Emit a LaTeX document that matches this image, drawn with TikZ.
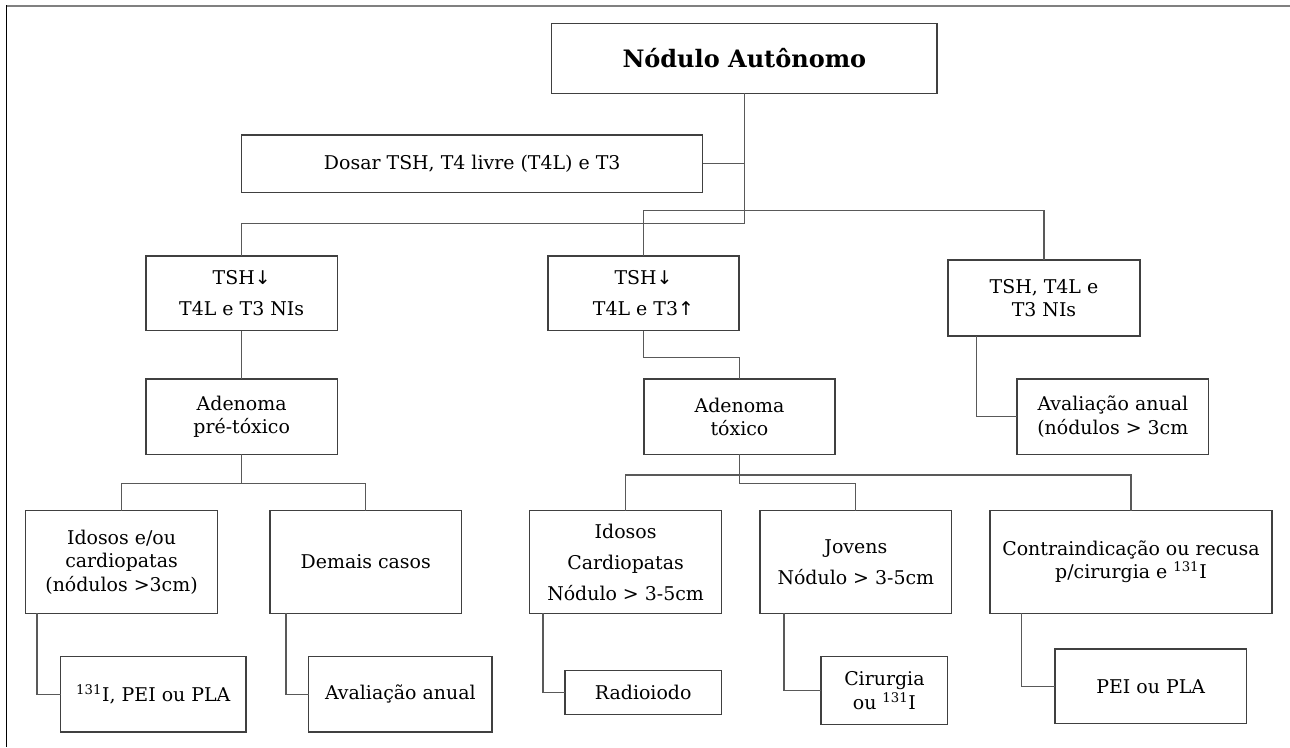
\documentclass[tikz,border=0pt]{standalone}
\usepackage{fontspec}
\setmainfont{DejaVu Serif}
\newfontfamily\arrowfont{DejaVu Sans}
\usetikzlibrary{calc}
\newcommand{\arrdown}{{\arrowfont ↓}}
\newcommand{\arrup}{{\arrowfont ↑}}
\newcommand{\isot}{\textsuperscript{131}}
% a box given by its two corners (pixel grid, y downwards)
\newcommand{\flowbox}[6]{%
  \pgfmathsetmacro\bw{(#4-#2)*0.75}%
  \pgfmathsetmacro\bh{(#5-#3)*0.75}%
  \node[box, minimum width=\bw pt, minimum height=\bh pt]
    (#1) at ({(#2+#4)/2},{(#3+#5)/2}) {#6};}
\begin{document}
\begin{tikzpicture}[x=0.75pt,y=-0.75pt,
  box/.style={draw=black!75, line width=0.9pt, inner sep=0pt, outer sep=0pt,
              align=center, font=\fontsize{14.2}{17.5}\selectfont},
  link/.style={draw=black!65, line width=0.8pt}]
\useasboundingbox (0,0) rectangle (1290,747);

% frame
\draw[black!50, line width=1.5pt] (6,5.7) -- (1290,5.7);
\draw[black, line width=1.1pt] (6.5,5) -- (6.5,747);

% boxes
\flowbox{title}{551.7}{23.7}{937}{93.3}{\bfseries\fontsize{18}{22}\selectfont Nódulo Autônomo}
\flowbox{dosar}{241.8}{135}{702.7}{192.3}{Dosar TSH, T4 livre (T4L) e T3}
\flowbox{tshA}{146}{256}{337.3}{330.7}{TSH\arrdown\\[5.8pt]T4L e T3 NIs}
\flowbox{tshB}{548}{256}{739}{330.7}{TSH\arrdown\\[5.8pt]T4L e T3\arrup}
\flowbox{tshC}{948}{260}{1140}{336}{TSH, T4L e\\T3 NIs}
\flowbox{adpre}{146}{379}{337.3}{454.3}{Adenoma\\pré-tóxico}
\flowbox{adtox}{644}{379}{835}{454.3}{Adenoma\\tóxico}
\flowbox{aval1}{1017}{379}{1208.6}{454.3}{Avaliação anual\\(nódulos > 3cm}
\flowbox{idos}{25.7}{510.7}{217.4}{613.3}{Idosos e/ou\\cardiopatas\\(nódulos >3cm)}
\flowbox{demais}{270}{510.7}{461.5}{613.3}{Demais casos}
\flowbox{idcard}{529.8}{510.7}{721.4}{613.3}{Idosos\\[5.8pt]Cardiopatas\\[5.8pt]Nódulo > 3-5cm}
\flowbox{jovens}{760}{510.7}{951.7}{613.3}{Jovens\\[5.8pt]Nódulo > 3-5cm}
\flowbox{contra}{990}{510.7}{1272}{613.3}{Contraindicação ou recusa\\p/cirurgia e \isot I}
\flowbox{iodoA}{60.6}{656.7}{246}{732}{\isot I, PEI ou PLA}
\flowbox{aval2}{308.7}{656.7}{492}{732}{Avaliação anual}
\flowbox{radio}{565}{670.7}{721.4}{714.3}{Radioiodo}
\flowbox{cirurg}{821}{656.7}{947.8}{724.7}{Cirurgia\\ou \isot I}
\flowbox{pei}{1055}{649}{1246.4}{723.5}{PEI ou PLA}

% levels of the horizontal branches
\coordinate (lvA) at (0,223.3);
\coordinate (lvB) at (0,210.7);
\coordinate (lvM) at (0,357.7);
\coordinate (lvP) at (0,483.3);
\coordinate (lvT) at (0,475);
\coordinate (lvJ) at (0,483.3);

% connectors
\draw[link] (title.south) -- (title.south |- lvA) -| (tshA.north);
\draw[link] (dosar.east) -- (dosar.east -| title.south);
\draw[link] (tshB.north) |- (lvB -| tshC.north) -- (tshC.north);
\draw[link] (tshA.south) -- (adpre.north);
\draw[link] (tshB.south) |- (lvM -| adtox.north) -- (adtox.north);
\draw[link] ($(tshC.south west)+(28.5,0)$) |- (aval1.west);
\draw[link] (adpre.south) |- (lvP -| idos.north) -- (idos.north);
\draw[link] (adpre.south) |- (lvP -| demais.north) -- (demais.north);
\draw[link] ($(idos.south west)+(11.3,0)$) |- (iodoA.west);
\draw[link] ($(demais.south west)+(16,0)$) |- (aval2.west);
\draw[link] (adtox.south) -- (adtox.south |- lvT);
\draw[link] (idcard.north) |- (lvT -| contra.north) -- (contra.north);
\draw[link] (adtox.south) |- (lvJ -| jovens.north) -- (jovens.north);
\draw[link] ($(idcard.south west)+(13.2,0)$) |- (radio.west);
\draw[link] ($(jovens.south west)+(24,0)$) |- (cirurg.west);
\draw[link] ($(contra.south west)+(31.5,0)$) |- (pei.west);
\end{tikzpicture}
\end{document}
